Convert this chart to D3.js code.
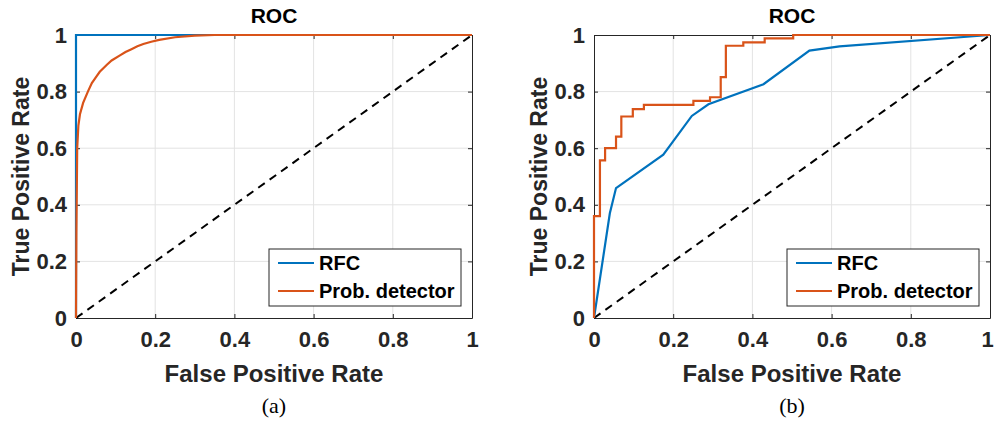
<!DOCTYPE html>
<html>
<head>
<meta charset="utf-8">
<script src="https://cdn.jsdelivr.net/npm/d3@7"></script>
<style>
  body { margin: 0; background: #fff; }
  svg text { font-family: "Liberation Sans", Arial, sans-serif; }
</style>
</head>
<body>
<svg id="chart" width="994" height="427"></svg>
<script>
// ---- data ----
var tickValues = [0, 0.2, 0.4, 0.6, 0.8, 1];
var tickLabels = ["0", "0.2", "0.4", "0.6", "0.8", "1"];
var seriesNames = ["RFC", "Prob. detector"];
var seriesColors = ["#0072BD", "#D95319"];

// (a) left panel
var rfcA_fpr = [0, 0, 1];
var rfcA_tpr = [0, 1, 1];
var probA_fpr = [0, 0.001, 0.003, 0.006, 0.01, 0.018, 0.03, 0.04, 0.05, 0.06, 0.078, 0.09, 0.111, 0.125, 0.14, 0.155, 0.17, 0.19, 0.21, 0.25, 0.3, 0.35, 1];
var probA_tpr = [0, 0.3, 0.6, 0.68, 0.72, 0.76, 0.8, 0.83, 0.85, 0.87, 0.895, 0.91, 0.928, 0.94, 0.95, 0.96, 0.968, 0.976, 0.983, 0.992, 0.998, 1, 1];

// (b) right panel
var rfcB_fpr = [0, 0.04, 0.0556, 0.175, 0.247, 0.289, 0.428, 0.544, 0.62, 1];
var rfcB_tpr = [0, 0.37, 0.459, 0.577, 0.714, 0.755, 0.826, 0.945, 0.96, 1];
var probB_fpr = [0, 0, 0.015, 0.028, 0.0556, 0.069, 0.098, 0.126, 0.251, 0.293, 0.32, 0.333, 0.377, 0.431, 0.503, 1];
var probB_tpr = [0, 0.36, 0.557, 0.6, 0.641, 0.712, 0.738, 0.753, 0.767, 0.78, 0.851, 0.962, 0.974, 0.988, 1, 1];

var svg = d3.select("#chart");
var axisColor = "#262626";

function zip(xs, ys) { return xs.map(function(v, i) { return [v, ys[i]]; }); }

function drawPanel(p) {
  var x = d3.scaleLinear().domain([0, 1]).range([p.left, p.right]);
  var y = d3.scaleLinear().domain([0, 1]).range([318, 35]);
  var g = svg.append("g");

  // grid
  g.append("g").selectAll("line.gx").data(tickValues.slice(1, -1)).enter().append("line")
    .attr("x1", function(d) { return x(d); }).attr("x2", function(d) { return x(d); })
    .attr("y1", y(0)).attr("y2", y(1))
    .attr("stroke", "#e3e3e3").attr("stroke-width", 1);
  g.append("g").selectAll("line.gy").data(tickValues.slice(1, -1)).enter().append("line")
    .attr("y1", function(d) { return y(d); }).attr("y2", function(d) { return y(d); })
    .attr("x1", x(0)).attr("x2", x(1))
    .attr("stroke", "#e3e3e3").attr("stroke-width", 1);

  // axes with inward ticks, box on
  var fmt = function(d, i) { return tickLabels[i]; };
  var xb = g.append("g").attr("transform", "translate(0," + y(0) + ")")
    .call(d3.axisBottom(x).tickValues(tickValues).tickFormat(fmt).tickSizeInner(-4).tickSizeOuter(0).tickPadding(13));
  var yl = g.append("g").attr("transform", "translate(" + x(0) + ",0)")
    .call(d3.axisLeft(y).tickValues(tickValues).tickFormat(fmt).tickSizeInner(-4).tickSizeOuter(0).tickPadding(9));
  g.append("g").attr("transform", "translate(0," + y(1) + ")")
    .call(d3.axisTop(x).tickValues(tickValues).tickFormat("").tickSizeInner(-4).tickSizeOuter(0));
  g.append("g").attr("transform", "translate(" + x(1) + ",0)")
    .call(d3.axisRight(y).tickValues(tickValues).tickFormat("").tickSizeInner(-4).tickSizeOuter(0));
  g.selectAll(".domain, .tick line").attr("stroke", axisColor).attr("stroke-width", 1);
  g.selectAll(".tick text").attr("fill", axisColor)
    .style("font-size", "22px").style("font-weight", "bold");
  if (p.nudgeLast) {
    xb.selectAll(".tick text").filter(function(d) { return d === 1; }).attr("dx", "-3");
  }

  // chance line
  g.append("line")
    .attr("x1", x(0)).attr("y1", y(0)).attr("x2", x(1)).attr("y2", y(1))
    .attr("stroke", "#000").attr("stroke-width", 2).attr("stroke-dasharray", "8,6");

  var line = d3.line().x(function(d) { return x(d[0]); }).y(function(d) { return y(d[1]); });
  g.append("path").datum(zip(p.rfcX, p.rfcY))
    .attr("d", line).attr("fill", "none")
    .attr("stroke", seriesColors[0]).attr("stroke-width", 2.2);
  g.append("path").datum(zip(p.probX, p.probY))
    .attr("d", line.curve(p.step ? d3.curveStepAfter : d3.curveLinear)).attr("fill", "none")
    .attr("stroke", seriesColors[1]).attr("stroke-width", 2.2);

  // title and labels
  var cx = (x(0) + x(1)) / 2;
  g.append("text").attr("x", cx).attr("y", 23).attr("text-anchor", "middle")
    .style("font-size", "21px").style("font-weight", "bold").attr("fill", "#000").text("ROC");
  g.append("text").attr("x", cx).attr("y", 382).attr("text-anchor", "middle")
    .style("font-size", "24px").style("font-weight", "bold").attr("fill", axisColor).text("False Positive Rate");
  g.append("text").attr("transform", "translate(" + (p.left - 47) + "," + ((y(0) + y(1)) / 2) + ") rotate(-90)")
    .attr("text-anchor", "middle")
    .style("font-size", "23px").style("font-weight", "bold").attr("fill", axisColor).text("True Positive Rate");
  g.append("text").attr("x", cx).attr("y", 413).attr("text-anchor", "middle")
    .style("font-family", "'Liberation Serif', serif").style("font-size", "22px")
    .attr("fill", "#000").text(p.caption);

  // legend
  var lx = x(1) - 203, ly = 249;
  var leg = g.append("g").attr("transform", "translate(" + lx + "," + ly + ")");
  leg.append("rect").attr("width", 192).attr("height", 57)
    .attr("fill", "#fff").attr("stroke", axisColor).attr("stroke-width", 1);
  seriesNames.forEach(function(name, i) {
    var ry = 14 + i * 28;
    leg.append("line").attr("x1", 9).attr("x2", 45).attr("y1", ry).attr("y2", ry)
      .attr("stroke", seriesColors[i]).attr("stroke-width", 2.2);
    leg.append("text").attr("x", 50).attr("y", ry + 7)
      .style("font-size", "20px").style("font-weight", "bold").attr("fill", "#000").text(name);
  });
}

drawPanel({ left: 76, right: 472, caption: "(a)", step: false, nudgeLast: false,
  rfcX: rfcA_fpr, rfcY: rfcA_tpr, probX: probA_fpr, probY: probA_tpr });
drawPanel({ left: 594, right: 990, caption: "(b)", step: true, nudgeLast: true,
  rfcX: rfcB_fpr, rfcY: rfcB_tpr, probX: probB_fpr, probY: probB_tpr });
</script>
</body>
</html>
